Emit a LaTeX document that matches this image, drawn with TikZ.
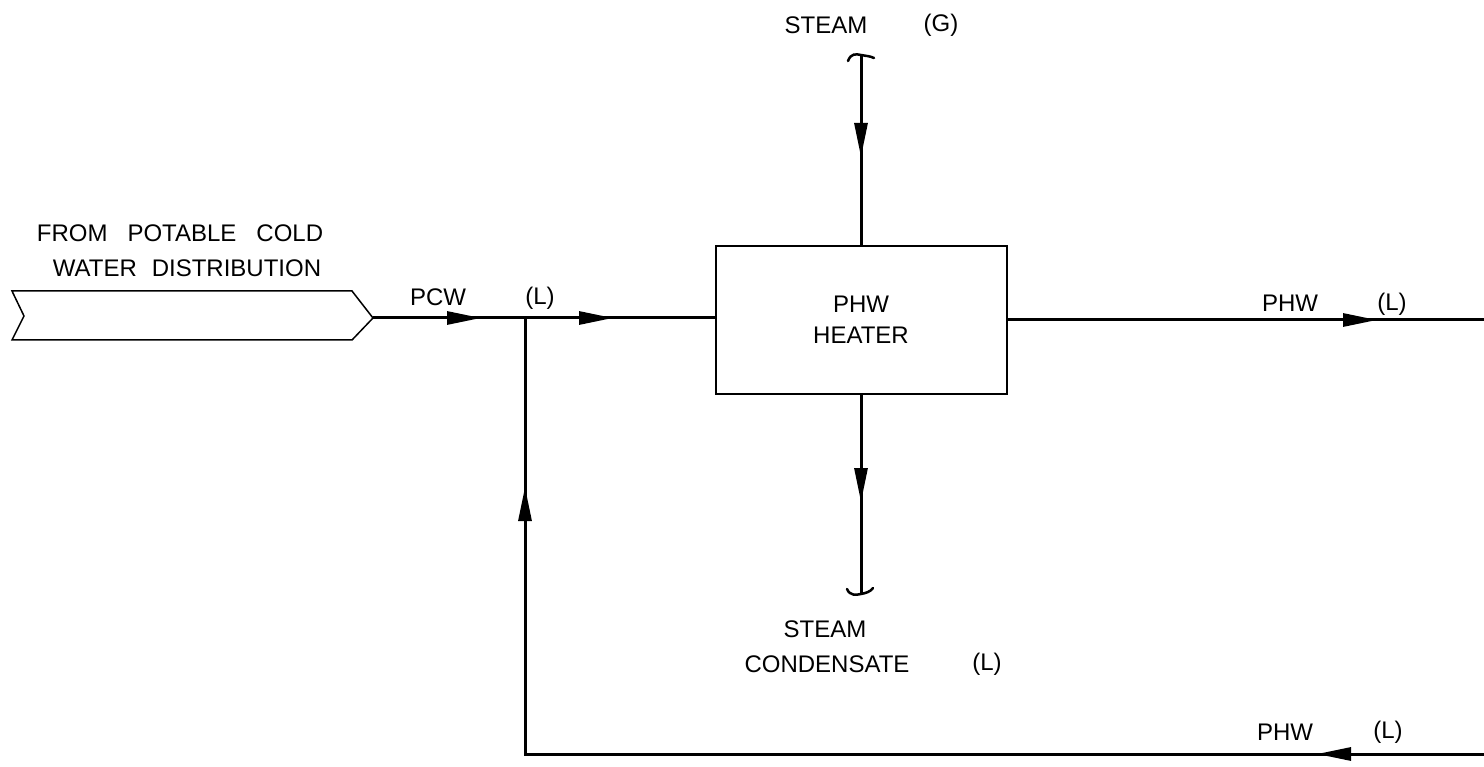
\documentclass[tikz,border=0pt]{standalone}
\usepackage{fontspec}
\setmainfont{Liberation Sans}
\usetikzlibrary{arrows.meta}
\begin{document}
\begin{tikzpicture}[x=1pt,y=-1pt,
  pipe/.style={line width=3pt},
  flow/.style={line width=3pt,-{Triangle[length=34pt,width=13pt]}},
  lbl/.style={font=\fontsize{24}{31}\selectfont, inner sep=0pt, anchor=center},
  brk/.style={line width=2.5pt, line cap=round}]
\useasboundingbox (0,0) rectangle (1484,767);
% equipment box
\node[draw, line width=2pt, minimum width=291pt, minimum height=148pt, inner sep=0pt,
      font=\fontsize{24}{31}\selectfont, align=center] (heater) at (861,320) {PHW\\HEATER};
% off-page connector
\draw[line width=1.5pt] (12,291) -- (352,291) -- (373,318) -- (352,340) -- (12,340) -- (24,316) -- cycle;
\coordinate (opc) at (373,318);
% coordinates
\coordinate (pcwtip) at (481,318);
\coordinate (jn) at (525,318);
\coordinate (intip) at (613,318);
\coordinate (hin) at (heater.west |- jn);
\coordinate (outtip) at (1377,320);
\coordinate (outend) at (1484,320);
\coordinate (sttop) at (861,56);
\coordinate (sttip) at (861,157);
\coordinate (cdtip) at (861,502);
\coordinate (cdend) at (861,593);
\coordinate (retstart) at (1484,754);
\coordinate (rettip) at (1317,754);
\coordinate (corner) at (525,754);
\coordinate (uptip) at (525,487);
% pipes
\draw[pipe] (opc) -- (hin);
\draw[pipe] (heater.east) -- (outend);
\draw[pipe] (sttop) -- (heater.north);
\draw[pipe] (heater.south) -- (cdend);
\draw[pipe] (retstart) -- (corner) -- (jn);
% flow arrows
\draw[flow] (opc) -- (pcwtip);
\draw[flow] (jn) -- (intip);
\draw[flow] (heater.east) -- (outtip);
\draw[flow] (sttop) -- (sttip);
\draw[flow] (heater.south) -- (cdtip);
\draw[flow] (retstart) -- (rettip);
\draw[flow] (corner) -- (uptip);
% pipe break symbols
\draw[brk] (848,61) .. controls (851,53) and (856,54) .. (861,55) .. controls (866,56) and (870,56) .. (874,58);
\draw[brk] (847,589) .. controls (850,596) and (856,595) .. (861,594) .. controls (866,593) and (870,592) .. (873,588);
% labels
\node[lbl] (lsteam) at (826,25) {STEAM};
\node[lbl] (lg) at (941,25) {(G)};
\node[lbl] (lfrom) at (180,233) {FROM\hspace{20pt}POTABLE\hspace{20pt}COLD};
\node[lbl] (lwater) at (187,268) {WATER\hspace{15pt}DISTRIBUTION};
\node[lbl] (lpcw) at (438,297) {PCW};
\node[lbl] (lpcwl) at (540,298) {(L)};
\node[lbl] (lphw1) at (1290,303) {PHW};
\node[lbl] (lphw1l) at (1392,304) {(L)};
\node[lbl] (lsteam2) at (825,629) {STEAM};
\node[lbl] (lcond) at (827,664) {CONDENSATE};
\node[lbl] (lcondl) at (987,664) {(L)};
\node[lbl] (lphw2) at (1285,732) {PHW};
\node[lbl] (lphw2l) at (1388,732) {(L)};
\end{tikzpicture}
\end{document}
